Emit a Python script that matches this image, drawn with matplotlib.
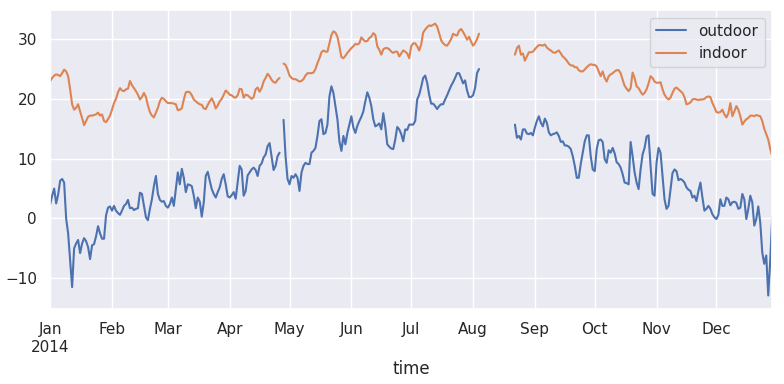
import numpy as np
import pandas as pd
import matplotlib
matplotlib.use("Agg")
import matplotlib.pyplot as plt
import seaborn as sns

nan = np.nan

# daily readings, 2014-01-01 .. 2014-12-29 (gap in August)
start = "2014-01-01"

outdoor = [
    2.4, 3.8, 5.0, 2.5, 4.0, 6.3, 6.6, 6.0, 0.0, -2.5,
    -7.0, -11.5, -5.0, -4.2, -3.6, -5.8, -4.2, -3.3, -3.8, -4.8,
    -6.8, -4.5, -4.3, -3.0, -1.3, -2.5, -3.4, -3.4, 0.5, 1.8,
    2.0, 1.3, 2.1, 1.3, 0.9, 0.6, 1.3, 2.1, 2.4, 3.1,
    1.7, 1.8, 1.4, 1.6, 1.7, 4.3, 4.1, 2.1, 0.2, -0.3,
    1.6, 3.2, 5.4, 7.1, 4.1, 3.1, 2.8, 2.9, 2.1, 1.8,
    2.4, 3.5, 2.1, 4.9, 7.7, 5.7, 8.3, 6.8, 4.4, 5.7,
    5.6, 5.4, 3.8, 1.7, 3.5, 2.8, 0.3, 2.7, 7.1, 7.8,
    6.3, 4.9, 4.1, 3.5, 4.4, 5.2, 6.6, 7.4, 5.7, 3.7,
    3.5, 3.9, 4.4, 3.3, 6.0, 8.8, 8.2, 3.8, 4.6, 7.2,
    7.7, 8.2, 8.5, 8.1, 7.1, 8.8, 9.2, 10.2, 10.7, 12.1,
    12.6, 10.4, 8.1, 8.8, 10.4, 11.0, nan, 16.5, 10.4, 6.6,
    5.7, 7.1, 6.8, 7.4, 6.8, 4.6, 7.7, 8.8, 9.3, 9.1,
    9.1, 11.0, 11.3, 11.8, 13.8, 16.3, 16.6, 14.1, 14.3, 15.7,
    20.4, 22.1, 21.0, 18.8, 16.6, 12.9, 11.3, 13.8, 12.4, 14.3,
    15.7, 17.1, 15.2, 14.3, 15.5, 16.3, 17.0, 17.9, 19.6, 21.1,
    20.2, 18.8, 16.6, 15.4, 15.6, 15.9, 14.9, 17.6, 15.4, 12.4,
    12.0, 11.7, 11.6, 13.2, 15.3, 14.9, 14.1, 12.9, 14.9, 14.8,
    15.7, 15.7, 15.7, 16.3, 19.9, 20.7, 22.0, 23.5, 23.9, 22.7,
    20.7, 19.2, 19.2, 18.8, 18.3, 18.8, 19.1, 19.1, 19.9, 20.6,
    21.4, 22.2, 22.8, 23.5, 24.3, 24.3, 23.5, 22.6, 23.1, 21.4,
    20.3, 20.3, 20.6, 21.8, 24.3, 25.0,
] + [nan] * 17 + [
    15.7, 13.5, 13.8, 13.2, 14.9, 14.9, 14.2,
    14.1, 14.3, 13.9, 15.2, 16.3, 17.1, 16.0, 15.4, 16.7, 16.0,
    14.4, 13.9, 14.1, 14.2, 14.4, 13.8, 12.8, 12.9, 12.2, 12.2,
    12.0, 11.6, 10.4, 8.8, 6.8, 6.8, 9.1, 11.0, 12.9, 13.9,
    13.9, 10.4, 8.2, 7.9, 11.6, 13.1, 13.2, 12.8, 9.9, 9.3,
    11.4, 11.0, 11.8, 10.9, 9.4, 9.1, 8.5, 7.4, 6.0, 5.9,
    5.7, 12.8, 10.4, 7.7, 6.0, 4.9, 8.2, 10.7, 11.8, 13.7,
    13.9, 8.8, 4.1, 3.8, 9.3, 11.8, 11.0, 7.1, 3.2, 1.6,
    2.1, 4.9, 7.6, 8.2, 7.9, 6.4, 6.6, 6.4, 6.0, 5.2,
    4.8, 4.6, 3.5, 3.8, 2.9, 4.6, 6.0, 3.5, 1.3, 1.6,
    2.1, 1.6, 0.7, 0.2, -0.1, 0.6, 3.2, 2.1, 2.1, 3.5,
    3.2, 2.2, 2.7, 2.8, 2.6, 1.6, 1.8, 4.1, 3.2, -0.1,
    1.6, 3.8, 2.7, -1.2, -0.1, 2.0, -0.7, -5.7, -7.6, -6.2,
    -12.9, -7.0, 0.3,
]

indoor = [
    23.0, 23.5, 23.9, 24.1, 24.0, 23.8, 24.3, 24.9, 24.6, 23.8,
    21.6, 19.1, 18.2, 18.5, 19.1, 17.9, 16.8, 15.6, 16.3, 17.0,
    17.2, 17.2, 17.3, 17.4, 17.7, 17.2, 17.4, 16.3, 16.1, 16.6,
    17.2, 18.2, 19.3, 20.0, 21.1, 21.8, 21.4, 21.3, 21.6, 21.7,
    23.0, 22.3, 21.8, 21.3, 20.7, 19.9, 20.3, 21.0, 20.3, 18.9,
    17.8, 17.2, 16.9, 17.7, 18.5, 19.6, 20.2, 20.0, 19.6, 19.3,
    19.3, 19.3, 19.2, 19.1, 18.1, 18.2, 18.4, 19.9, 21.1, 21.2,
    21.1, 20.6, 19.9, 19.6, 19.3, 19.1, 19.0, 18.4, 18.3, 19.0,
    19.6, 20.1, 19.4, 18.4, 18.9, 19.6, 20.0, 20.7, 21.4, 21.1,
    20.7, 20.6, 20.3, 20.2, 20.6, 21.7, 21.6, 20.2, 20.7, 20.6,
    20.3, 20.0, 20.3, 21.6, 21.9, 21.2, 21.8, 22.9, 23.5, 24.2,
    23.8, 23.2, 22.8, 22.7, 23.2, 23.5, nan, 25.9, 25.7, 24.9,
    23.9, 23.5, 23.3, 23.3, 23.1, 22.9, 23.0, 23.3, 23.9, 24.3,
    24.3, 24.3, 24.4, 25.0, 26.0, 26.8, 27.8, 28.1, 27.9, 27.9,
    29.3, 30.7, 31.3, 31.1, 30.4, 28.8, 27.0, 26.8, 27.2, 27.7,
    28.1, 28.5, 28.8, 29.2, 29.1, 29.3, 30.3, 29.9, 29.6, 29.7,
    30.2, 30.4, 31.0, 30.7, 28.8, 28.2, 27.4, 28.3, 28.5, 28.5,
    28.3, 27.9, 27.7, 27.9, 27.9, 27.1, 27.6, 28.1, 27.9, 27.6,
    26.8, 28.8, 29.3, 29.3, 28.8, 28.1, 29.1, 31.1, 31.6, 32.0,
    32.3, 32.2, 32.4, 32.6, 32.1, 31.0, 29.8, 29.3, 29.0, 28.9,
    29.4, 30.0, 30.9, 30.7, 30.6, 31.4, 31.7, 31.2, 30.6, 29.9,
    30.4, 29.6, 28.9, 29.3, 30.0, 30.9,
] + [nan] * 17 + [
    27.4, 28.5, 28.9, 27.4, 27.6, 26.4, 27.1,
    27.8, 27.8, 27.9, 28.3, 28.7, 29.0, 29.0, 28.9, 29.1, 28.6,
    28.3, 28.1, 27.8, 27.7, 27.9, 28.1, 27.6, 27.1, 26.8, 26.4,
    25.9, 25.6, 25.6, 25.3, 25.3, 24.8, 24.6, 24.6, 24.9, 25.3,
    25.6, 25.8, 25.7, 25.7, 25.4, 24.6, 23.8, 24.6, 23.5, 22.9,
    23.8, 24.1, 24.3, 24.6, 24.8, 24.8, 24.3, 23.2, 22.2, 21.7,
    21.3, 21.8, 24.4, 23.5, 22.1, 21.8, 21.2, 20.7, 21.0, 21.6,
    22.6, 23.8, 23.5, 22.9, 22.7, 22.7, 22.8, 21.6, 20.7, 20.2,
    19.9, 20.2, 21.0, 21.7, 21.9, 21.6, 21.3, 21.0, 20.3, 19.1,
    19.2, 19.4, 19.9, 20.0, 19.9, 19.8, 19.9, 19.9, 20.0, 20.3,
    20.4, 20.3, 19.3, 18.6, 17.8, 17.7, 17.8, 18.2, 17.4, 16.9,
    17.6, 19.3, 17.1, 17.9, 18.8, 18.2, 17.1, 15.7, 16.2, 16.6,
    16.8, 17.2, 17.2, 17.1, 17.3, 17.2, 17.1, 16.3, 15.0, 14.1,
    13.2, 11.6, 10.4,
]

sns.set_theme()

time = pd.date_range(start, periods=len(outdoor), freq="D", name="time")
df = pd.DataFrame({"outdoor": outdoor, "indoor": indoor}, index=time)

fig, ax = plt.subplots(figsize=(7.84, 3.84), dpi=100)
df.plot(ax=ax)
ax.legend(loc="upper right")
fig.subplots_adjust(left=0.064, right=0.985, top=0.974, bottom=0.195)

fig.savefig("out.png", dpi=100)
